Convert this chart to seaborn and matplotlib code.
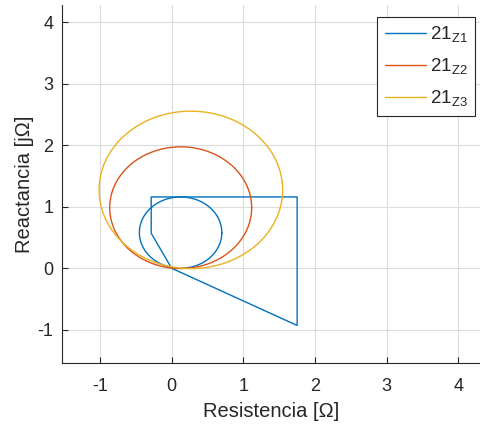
import numpy as np
import pandas as pd
import matplotlib
matplotlib.use("Agg")
import matplotlib.pyplot as plt
import seaborn as sns

# Zone characteristics (mho circles): centre R, centre X, radius
zones = ["21$_{\\mathregular{Z1}}$", "21$_{\\mathregular{Z2}}$", "21$_{\\mathregular{Z3}}$"]
center_r = [0.125, 0.126, 0.268]
center_x = [0.58, 0.985, 1.275]
radius_r = [0.575, 0.99, 1.28]
radius_x = [0.58, 0.99, 1.28]
colors = ["#0072BD", "#D95319", "#EDB120"]

# Quadrilateral characteristic of zone 1
quad_r = [0.0, 1.75, 1.75, -0.285, -0.285, 0.0]
quad_x = [0.0, -0.93, 1.16, 1.16, 0.57, 0.0]

xticks = [-1, 0, 1, 2, 3, 4]
yticks = [-1, 0, 1, 2, 3, 4]

sns.set_style("whitegrid")
plt.rcParams['font.family'] = ['Liberation Sans', 'DejaVu Sans']
plt.rcParams['axes.unicode_minus'] = False
plt.rcParams['mathtext.fontset'] = 'custom'
plt.rcParams['mathtext.rm'] = 'Liberation Sans'

fig = plt.figure(figsize=(4.8, 4.25), dpi=100)
ax = fig.add_axes([0.129, 0.146, 0.871, 0.842])

t = np.linspace(0, 2 * np.pi, 400)
for i, name in enumerate(zones):
    df = pd.DataFrame({"R": center_r[i] + radius_r[i] * np.cos(t),
                       "X": center_x[i] + radius_x[i] * np.sin(t)})
    sns.lineplot(data=df, x="R", y="X", sort=False, estimator=None,
                 color=colors[i], lw=1.0, ax=ax, label=name)
    if i == 0:
        dq = pd.DataFrame({"R": quad_r, "X": quad_x})
        sns.lineplot(data=dq, x="R", y="X", sort=False, estimator=None,
                     color=colors[0], lw=1.0, ax=ax)

ax.set_xlim(-1.53, 4.3)
ax.set_ylim(-1.54, 4.28)
ax.set_xticks(xticks)
ax.set_yticks(yticks)
ax.grid(True, color="#dcdcdc", lw=0.8)
for s in ["top", "right"]:
    ax.spines[s].set_visible(False)
for s in ["left", "bottom"]:
    ax.spines[s].set_color("#262626")
    ax.spines[s].set_linewidth(0.8)
ax.tick_params(direction="in", length=4, colors="#262626", labelsize=13,
               left=True, bottom=True)
ax.tick_params(axis="x", pad=11)
ax.tick_params(axis="y", pad=6)
ax.set_xlabel("Resistencia [Ω]", fontsize=14.5, color="#262626", labelpad=5)
ax.set_ylabel("Reactancia [jΩ]", fontsize=14.5, color="#262626", labelpad=3)

leg = ax.legend(loc="upper right", bbox_to_anchor=(0.9896, 0.96),
                bbox_transform=fig.transFigure, borderaxespad=0,
                fontsize=13.5, frameon=True, fancybox=False,
                edgecolor="#262626", framealpha=1, handlelength=2.2,
                handletextpad=0.2, labelspacing=0.62, borderpad=0.4)
leg.get_frame().set_linewidth(0.8)

fig.savefig("out.png", dpi=100)
